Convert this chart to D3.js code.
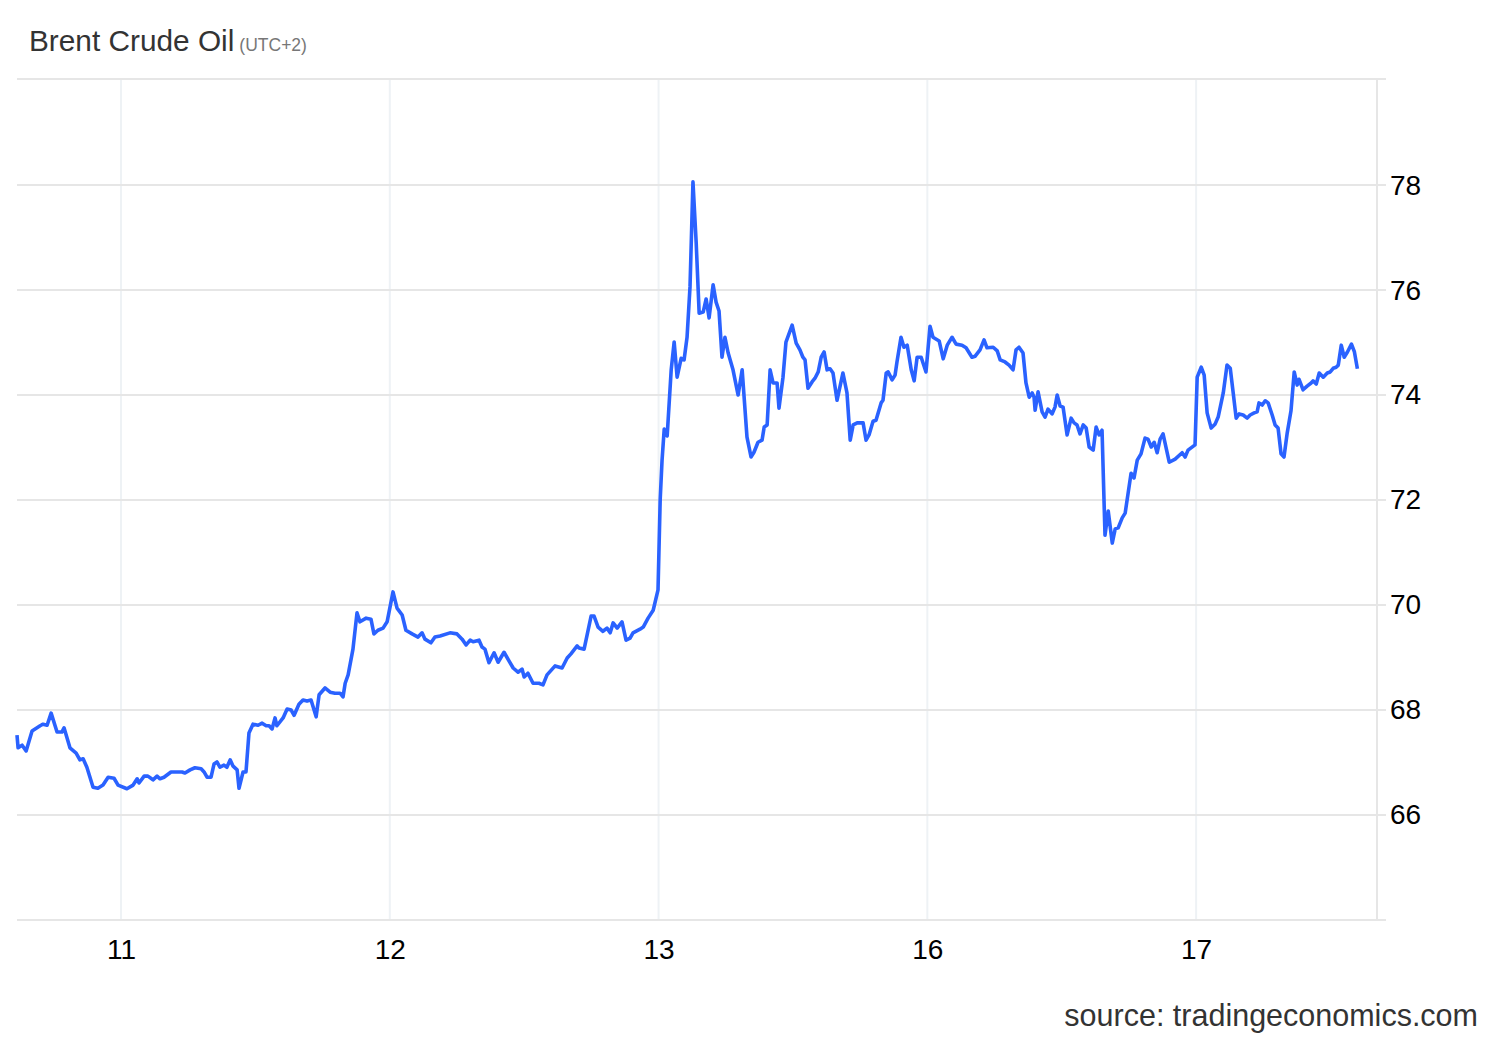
<!DOCTYPE html>
<html>
<head>
<meta charset="utf-8">
<script src="https://cdn.jsdelivr.net/npm/d3@7"></script>
<style>
  body { margin: 0; background: #fff; }
  text { font-family: "Liberation Sans", Arial, Helvetica, sans-serif; }
</style>
</head>
<body>
<div id="chart"></div>
<script>
// x position in trading days (0 = the 11th, 1 = 12th, 2 = 13th, 3 = 16th, 4 = 17th)
const times = [
  -0.387,-0.383,-0.368,-0.353,-0.331,-0.301,-0.290,-0.275,-0.260,-0.238,-0.220,-0.212,-0.190,-0.167,-0.153,-0.141,-0.127,-0.104,-0.086,-0.067,
  -0.048,-0.026,-0.011,0.022,0.045,0.060,0.067,0.086,0.100,0.119,0.134,0.145,0.160,0.186,0.208,0.227,0.238,0.257,0.275,0.298,
  0.309,0.320,0.335,0.346,0.357,0.368,0.383,0.394,0.406,0.417,0.432,0.439,0.454,0.465,0.476,0.491,0.510,0.525,0.540,0.551,
  0.562,0.573,0.580,0.603,0.618,0.633,0.644,0.662,0.677,0.692,0.707,0.726,0.737,0.759,0.778,0.796,0.815,0.826,0.834,0.845,
  0.863,0.878,0.889,0.912,0.930,0.941,0.956,0.975,0.990,1.012,1.027,1.046,1.060,1.083,1.105,1.120,1.131,1.153,1.168,1.187,
  1.224,1.250,1.269,1.284,1.299,1.310,1.332,1.343,1.354,1.369,1.388,1.403,1.425,1.444,1.459,1.477,1.492,1.500,1.514,1.533,
  1.555,1.570,1.585,1.615,1.641,1.660,1.674,1.697,1.704,1.723,1.749,1.760,1.775,1.793,1.808,1.820,1.831,1.846,1.864,1.879,
  1.894,1.905,1.931,1.943,1.961,1.980,1.998,2.006,2.013,2.021,2.032,2.047,2.058,2.069,2.084,2.095,2.106,2.117,2.128,2.140,
  2.151,2.166,2.177,2.188,2.203,2.214,2.225,2.236,2.247,2.259,2.277,2.296,2.311,2.329,2.344,2.355,2.370,2.385,2.393,2.404,
  2.415,2.426,2.441,2.448,2.463,2.474,2.497,2.512,2.526,2.537,2.545,2.556,2.571,2.582,2.594,2.605,2.616,2.627,2.638,2.649,
  2.664,2.686,2.701,2.713,2.724,2.739,2.761,2.772,2.783,2.798,2.809,2.828,2.835,2.847,2.854,2.869,2.880,2.887,2.902,2.913,
  2.925,2.940,2.951,2.962,2.977,2.984,2.995,3.010,3.021,3.044,3.059,3.074,3.092,3.107,3.129,3.144,3.166,3.178,3.196,3.211,
  3.222,3.245,3.260,3.271,3.289,3.304,3.319,3.330,3.341,3.356,3.367,3.379,3.390,3.397,3.401,3.412,3.427,3.438,3.449,3.464,
  3.475,3.483,3.494,3.505,3.520,3.535,3.546,3.557,3.568,3.580,3.591,3.602,3.617,3.628,3.639,3.650,3.661,3.673,3.688,3.699,
  3.710,3.725,3.736,3.758,3.769,3.781,3.795,3.810,3.821,3.833,3.844,3.855,3.866,3.877,3.900,3.922,3.948,3.959,3.970,3.996,
  4.004,4.019,4.030,4.041,4.056,4.071,4.082,4.101,4.115,4.127,4.138,4.149,4.160,4.175,4.190,4.201,4.216,4.227,4.234,4.246,
  4.257,4.268,4.283,4.294,4.305,4.316,4.327,4.339,4.353,4.365,4.376,4.383,4.398,4.413,4.428,4.435,4.447,4.458,4.473,4.488,
  4.499,4.510,4.521,4.529,4.540,4.551,4.563,4.578,4.589,4.600
];

const prices = [
  67.52,67.28,67.33,67.22,67.60,67.70,67.73,67.71,67.94,67.58,67.58,67.66,67.28,67.18,67.05,67.07,66.91,66.53,66.51,66.57,
  66.72,66.70,66.57,66.50,66.57,66.69,66.61,66.74,66.74,66.67,66.74,66.69,66.72,66.82,66.82,66.82,66.80,66.86,66.90,66.88,
  66.82,66.72,66.72,66.97,67.01,66.91,66.95,66.91,67.05,66.93,66.86,66.51,66.82,66.82,67.56,67.73,67.71,67.75,67.70,67.70,
  67.64,67.85,67.70,67.85,68.02,68.00,67.90,68.11,68.19,68.17,68.19,67.87,68.29,68.42,68.34,68.32,68.32,68.25,68.51,68.67,
  69.16,69.85,69.68,69.75,69.73,69.45,69.52,69.56,69.68,70.25,69.94,69.81,69.52,69.45,69.39,69.47,69.35,69.28,69.39,69.41,
  69.47,69.45,69.35,69.24,69.33,69.30,69.33,69.20,69.16,68.90,69.09,68.91,69.10,68.93,68.80,68.72,68.78,68.63,68.70,68.51,
  68.51,68.48,68.67,68.84,68.80,68.99,69.07,69.22,69.18,69.16,69.79,69.79,69.58,69.50,69.56,69.47,69.66,69.56,69.68,69.33,
  69.37,69.47,69.54,69.58,69.75,69.90,70.29,72.00,72.76,73.35,73.22,74.48,75.01,74.34,74.70,74.67,75.10,76.06,78.06,76.90,
  75.56,75.58,75.83,75.47,76.10,75.77,75.60,74.72,75.10,74.80,74.48,74.00,74.48,73.20,72.82,72.91,73.10,73.14,73.39,73.43,
  74.48,74.23,74.23,73.75,74.34,75.01,75.33,74.99,74.86,74.72,74.67,74.13,74.25,74.32,74.44,74.72,74.82,74.48,74.50,74.42,
  73.90,74.42,74.04,73.14,73.43,73.47,73.47,73.14,73.24,73.50,73.52,73.85,73.90,74.42,74.44,74.29,74.38,74.63,75.10,74.91,
  74.95,74.48,74.27,74.72,74.72,74.61,74.44,75.31,75.10,75.03,74.69,74.95,75.10,74.97,74.95,74.90,74.72,74.74,74.86,75.05,
  74.90,74.91,74.84,74.67,74.63,74.57,74.48,74.86,74.91,74.80,74.23,73.96,74.04,73.96,73.71,74.06,73.68,73.58,73.73,73.64,
  73.77,74.00,73.79,73.77,73.24,73.56,73.47,73.43,73.26,73.43,73.37,73.01,72.95,73.39,73.24,73.33,71.33,71.79,71.18,71.45,
  71.47,71.66,71.75,72.51,72.42,72.76,72.88,73.18,73.16,73.01,73.10,72.90,73.16,73.26,72.72,72.78,72.90,72.82,72.95,73.05,
  74.34,74.53,74.38,73.66,73.37,73.45,73.58,74.04,74.57,74.51,74.04,73.56,73.64,73.62,73.56,73.62,73.66,73.68,73.85,73.81,
  73.89,73.85,73.62,73.43,73.37,72.88,72.82,73.28,73.70,74.44,74.19,74.30,74.10,74.17,74.23,74.27,74.21,74.42,74.34,74.42,
  74.44,74.51,74.53,74.57,74.95,74.72,74.82,74.97,74.82,74.50
];

const dayTicks = [0, 1, 2, 3, 4];
const dayLabels = ["11", "12", "13", "16", "17"];
const priceTicks = [66, 68, 70, 72, 74, 76, 78];

const data = times.map((t, i) => ({t: t, v: prices[i]}));

const W = 1500, H = 1040;
const plot = {left: 17, right: 1377, top: 79, bottom: 920};

const svg = d3.select("#chart").append("svg")
    .attr("width", W)
    .attr("height", H);

const x = d3.scaleLinear()
    .domain([-0.387, 4.673])
    .range([plot.left, plot.right]);

const y = d3.scaleLinear()
    .domain([64, 80.02])
    .range([plot.bottom, plot.top]);

// title
const title = svg.append("text")
    .attr("x", 29)
    .attr("y", 51)
    .attr("fill", "#333")
    .style("font-size", "29.8px")
    .text("Brent Crude Oil");
title.append("tspan")
    .attr("dx", 5)
    .attr("fill", "#777")
    .style("font-size", "17.5px")
    .text("(UTC+2)");

// vertical grid at day ticks
svg.append("g")
    .selectAll("line")
    .data(dayTicks)
    .join("line")
    .attr("x1", d => x(d))
    .attr("x2", d => x(d))
    .attr("y1", plot.top)
    .attr("y2", plot.bottom)
    .attr("stroke", "#eef2f5")
    .attr("stroke-width", 2);

// horizontal grid (incl. bottom border)
svg.append("g")
    .selectAll("line")
    .data(priceTicks.concat([64]))
    .join("line")
    .attr("x1", plot.left)
    .attr("x2", plot.right + 9)
    .attr("y1", d => y(d))
    .attr("y2", d => y(d))
    .attr("stroke", "#e6e6e6")
    .attr("stroke-width", 2);

// top border
svg.append("line")
    .attr("x1", plot.left)
    .attr("x2", plot.right + 9)
    .attr("y1", plot.top)
    .attr("y2", plot.top)
    .attr("stroke", "#e6e6e6")
    .attr("stroke-width", 2);

// right axis line
svg.append("line")
    .attr("x1", plot.right)
    .attr("x2", plot.right)
    .attr("y1", plot.top)
    .attr("y2", plot.bottom + 1)
    .attr("stroke", "#e6e6e6")
    .attr("stroke-width", 2);

// y axis labels
const yAxis = d3.axisRight(y)
    .tickValues(priceTicks)
    .tickSize(0)
    .tickPadding(0)
    .tickFormat(d3.format("d"));

svg.append("g")
    .attr("transform", "translate(" + (plot.right + 13) + ",0)")
    .call(yAxis)
    .call(g => g.select(".domain").remove())
    .call(g => g.selectAll("text")
        .attr("fill", "#000")
        .style("font-size", "28px")
        .style("font-family", "'Liberation Sans', Arial, sans-serif"));

// x axis labels
const xAxis = d3.axisBottom(x)
    .tickValues(dayTicks)
    .tickSize(0)
    .tickPadding(0)
    .tickFormat((d, i) => dayLabels[i]);

svg.append("g")
    .attr("transform", "translate(0," + (plot.bottom + 19) + ")")
    .call(xAxis)
    .call(g => g.select(".domain").remove())
    .call(g => g.selectAll("text")
        .attr("fill", "#000")
        .style("font-size", "28px")
        .style("font-family", "'Liberation Sans', Arial, sans-serif"));

// price line
const line = d3.line()
    .x(d => x(d.t))
    .y(d => y(d.v));

svg.append("path")
    .datum(data)
    .attr("fill", "none")
    .attr("stroke", "#2a62ff")
    .attr("stroke-width", 3.6)
    .attr("stroke-linejoin", "round")
    .attr("d", line);

// source
svg.append("text")
    .attr("x", 1478)
    .attr("y", 1026)
    .attr("text-anchor", "end")
    .attr("fill", "#333")
    .style("font-size", "30.5px")
    .text("source: tradingeconomics.com");
</script>
</body>
</html>
